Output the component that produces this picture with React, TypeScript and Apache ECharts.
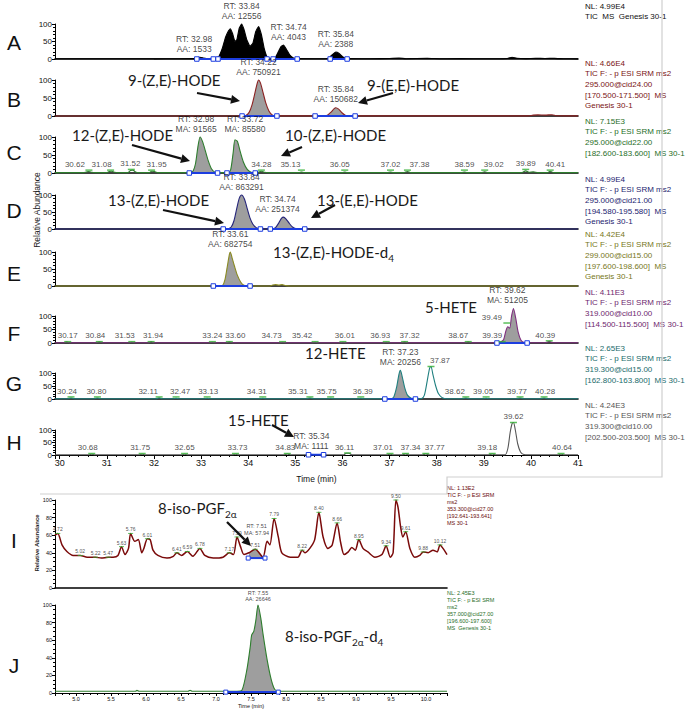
import React, { useEffect, useRef } from 'react';
import * as echarts from 'echarts';

type P = [number, number];
type L = [number, number, string];

// ---------------- data ----------------
const timeRangeAH: P = [29.9, 41];
const timeRangeIJ: P = [4.7, 10.3];

const traceA: P[] = [[29.9,0.5],[30.5,0.8],[31.0,0.5],[31.5,0.8],[32.0,0.5],[32.5,0.6],[32.85,1],[32.92,4],[32.98,5],[33.05,3],[33.15,1],[33.3,1.5],[33.38,8],[33.45,30],[33.52,62],[33.58,80],[33.62,86],[33.67,72],[33.72,50],[33.76,55],[33.81,88],[33.86,100],[33.91,85],[33.97,55],[34.04,36],[34.1,45],[34.16,78],[34.22,93],[34.28,70],[34.34,30],[34.4,6],[34.47,1],[34.57,3],[34.63,18],[34.7,36],[34.75,40],[34.81,28],[34.88,12],[34.96,3],[35.05,1],[35.4,0.8],[35.7,1.5],[35.78,12],[35.86,20],[35.93,16],[36.02,5],[36.12,1],[36.6,0.6],[37.0,1.5],[37.2,2.5],[37.35,0.8],[37.8,2],[38.1,0.6],[38.5,1.2],[38.9,0.6],[39.5,1.5],[39.6,5],[39.7,2],[39.9,1],[40.1,1.8],[40.3,1.5],[40.5,1.8],[40.7,0.6],[41,0.5]];
const traceB: P[] = [[29.9,0],[33.85,0],[33.95,1.5],[34.02,10],[34.08,30],[34.14,62],[34.19,90],[34.22,100],[34.26,92],[34.31,68],[34.37,38],[34.44,14],[34.51,3],[34.58,0.3],[35.6,0.3],[35.68,2],[35.76,11],[35.82,20],[35.86,23],[35.92,19],[35.99,9],[36.06,2],[36.14,0.3],[39.95,0.3],[40.05,2.5],[40.15,3],[40.3,2.5],[40.45,3.5],[40.55,0.5],[41,0.3]];
const traceC: P[] = [[29.9,1],[30.5,1],[30.57,3],[30.62,4],[30.68,2],[30.75,1],[31.0,1],[31.05,4],[31.1,5],[31.16,2],[31.25,1],[31.45,1],[31.5,7],[31.55,8],[31.62,2],[31.7,1],[31.9,1],[31.95,5],[32.01,4],[32.08,1],[32.7,1],[32.82,4],[32.88,25],[32.93,70],[32.98,100],[33.03,88],[33.09,62],[33.15,35],[33.22,12],[33.3,2],[33.4,1],[33.58,1],[33.63,10],[33.68,55],[33.72,92],[33.77,88],[33.83,60],[33.9,30],[33.98,10],[34.06,2],[34.15,1],[34.22,3],[34.28,5],[34.34,2],[34.45,1],[35.08,1],[35.13,2.5],[35.19,1],[36.0,1],[36.05,2.5],[36.1,1],[36.95,1],[37.02,2.5],[37.08,1],[37.3,1],[37.38,4],[37.45,1],[38.53,1],[38.59,2.5],[38.65,1],[38.95,1],[39.02,3.5],[39.09,1],[39.8,1],[39.89,6],[39.96,2],[40.05,3],[40.15,1],[40.35,1],[40.41,5],[40.48,1],[41,1]];
const traceD: P[] = [[29.9,0],[33.5,0],[33.58,1],[33.64,6],[33.7,25],[33.76,62],[33.81,90],[33.86,100],[33.92,88],[33.98,60],[34.04,32],[34.1,14],[34.17,4],[34.25,0.5],[34.5,0.5],[34.58,4],[34.65,18],[34.71,32],[34.75,35],[34.8,30],[34.87,17],[34.94,6],[35.02,1],[35.1,0],[40.3,0],[40.35,1.5],[40.4,0],[41,0]];
const traceE: P[] = [[29.9,0],[33.4,0],[33.46,2],[33.51,20],[33.56,60],[33.6,92],[33.62,100],[33.66,82],[33.71,58],[33.77,32],[33.84,12],[33.9,3],[33.98,0],[34.45,0],[34.52,3],[34.58,4],[34.65,2.5],[34.72,4],[34.8,1],[34.9,0],[41,0]];
const traceF: P[] = [[29.9,1],[30.1,1],[30.15,4],[30.2,1],[30.78,1],[30.84,4],[30.9,1],[31.47,1],[31.53,3],[31.59,1],[31.88,1],[31.94,5],[32.0,1],[33.18,1],[33.24,3],[33.3,1],[33.54,1],[33.6,4],[33.66,1],[34.67,1],[34.73,3],[34.79,1],[35.36,1],[35.42,3],[35.48,1],[35.95,1],[36.01,3],[36.07,1],[36.87,1],[36.93,3],[36.99,1],[37.26,1],[37.32,4],[37.38,1],[38.61,1],[38.67,4],[38.73,1],[39.3,1],[39.36,4],[39.42,12],[39.47,45],[39.51,60],[39.55,55],[39.59,100],[39.63,128],[39.68,90],[39.73,40],[39.79,10],[39.86,2],[39.95,1],[40.32,1],[40.39,6],[40.46,1],[41,1]];
const traceG: P[] = [[29.9,1],[30.18,1],[30.24,4],[30.3,1],[30.74,1],[30.8,4],[30.86,1],[32.05,1],[32.11,5],[32.17,1],[32.41,1],[32.47,3],[32.53,1],[33.07,1],[33.13,3],[33.19,1],[34.25,1],[34.31,3],[34.37,1],[35.25,1],[35.31,4],[35.37,1],[35.69,1],[35.75,3],[35.81,1],[36.33,1],[36.39,3],[36.45,1],[37.02,1],[37.09,8],[37.15,45],[37.2,95],[37.23,110],[37.27,85],[37.32,45],[37.38,15],[37.46,3],[37.55,1],[37.68,2],[37.74,15],[37.8,70],[37.85,118],[37.88,125],[37.92,95],[37.98,50],[38.04,20],[38.12,5],[38.22,1],[38.56,1],[38.62,4],[38.68,1],[38.99,1],[39.05,3],[39.11,1],[39.71,1],[39.77,4],[39.83,1],[40.22,1],[40.28,4],[40.34,1],[41,1]];
const traceH: P[] = [[29.9,1],[30.62,1],[30.68,3],[30.74,1],[31.69,1],[31.75,3],[31.81,1],[32.59,1],[32.65,3],[32.71,1],[33.67,1],[33.73,3],[33.79,1],[34.77,1],[34.83,4],[34.89,1],[35.28,1],[35.34,2.5],[35.4,1],[36.03,1],[36.08,7],[36.14,7],[36.2,1],[36.95,1],[37.01,3],[37.07,1],[37.28,1],[37.34,4],[37.4,1],[37.71,1],[37.77,4],[37.83,1],[39.12,1],[39.18,4],[39.24,1],[39.45,1],[39.51,25],[39.56,90],[39.6,125],[39.63,130],[39.67,100],[39.72,45],[39.78,12],[39.85,2],[39.95,1],[40.58,1],[40.64,3],[40.7,1],[41,1]];
const traceI: P[] = [[4.7,60],[4.74,62],[4.8,49],[4.87,41.5],[4.96,37],[5.06,37],[5.16,35],[5.28,35],[5.36,34],[5.46,35],[5.53,35],[5.6,37],[5.65,47],[5.7,38],[5.75,45],[5.78,62],[5.84,53],[5.89,55],[5.94,40],[5.97,45],[6.02,56],[6.06,55],[6.1,43],[6.17,37],[6.3,34],[6.39,36],[6.44,40],[6.51,37],[6.59,41.5],[6.67,36],[6.77,45],[6.84,37],[6.96,34],[7.1,35],[7.19,40],[7.25,38],[7.3,58],[7.35,47],[7.4,38],[7.47,40],[7.56,44],[7.67,35],[7.73,53],[7.77,49],[7.83,79],[7.89,58],[7.94,40],[8.06,35],[8.17,35],[8.23,43],[8.27,40],[8.34,45],[8.41,55],[8.47,86],[8.53,58],[8.6,45],[8.66,49],[8.73,74],[8.78,52],[8.83,38],[8.89,41],[8.94,46],[8.99,43],[9.04,55],[9.1,45],[9.17,41],[9.27,35],[9.37,38],[9.43,48],[9.49,35],[9.53,40],[9.57,100],[9.6,92],[9.64,68],[9.67,58],[9.71,64],[9.77,45],[9.84,35],[9.91,37],[9.96,41],[10.03,40],[10.1,43],[10.16,41],[10.2,49],[10.26,43],[10.3,38]];
const traceJ: P[] = [[4.7,2],[5.85,2],[5.87,3],[5.9,2],[6.6,2],[6.63,3],[6.66,2],[7.3,2],[7.37,3],[7.44,26],[7.49,53],[7.51,66],[7.54,70],[7.57,83],[7.6,100],[7.64,85],[7.67,68],[7.73,38],[7.79,15],[7.84,4],[7.9,2],[10.3,2]];

// integration windows (min) and their baseline level (%)
const winA: P[] = [[32.91,33.26],[33.36,34.4],[34.53,35.04],[35.74,36.1]];
const winB: P[] = [[33.87,34.61],[35.42,36.27]];
const winC: P[] = [[32.75,33.35],[33.55,34.15]];
const winD: P[] = [[33.47,34.26],[34.47,35.2]];
const winE: P[] = [[33.26,34.04]];
const winF: P[] = [[39.28,39.92]];
const winG: P[] = [[36.9,37.55]];
const winH: P[] = [[35.28,35.6]];
const winI: P[] = [[7.46,7.7]];
const winJ: P[] = [[7.14,7.89]];
const baseLevelI = 34;

// retention-time / area annotations [time, level, text]
const rtA: L[] = [[32.98,5,'RT: 32.98\nAA: 1533'],[33.86,100,'RT: 33.84\nAA: 12556'],[34.75,40,'RT: 34.74\nAA: 4043'],[35.86,20,'RT: 35.84\nAA: 2388']];
const rtB: L[] = [[34.22,100,'RT: 34.22\nAA: 750921'],[35.86,23,'RT: 35.84\nAA: 150682']];
const rtC: L[] = [[32.98,100,'RT: 32.98\nMA: 91565'],[33.72,92,'RT: 33.72\nMA: 85580']];
const rtD: L[] = [[33.86,100,'RT: 33.84\nAA: 863291'],[34.75,35,'RT: 34.74\nAA: 251374']];
const rtE: L[] = [[33.62,100,'RT: 33.61\nAA: 682754']];
const rtF: L[] = [[39.63,128,'RT: 39.62\nMA: 51205']];
const rtG: L[] = [[37.23,110,'RT: 37.23\nMA: 20256']];
const rtH: L[] = [[35.34,2.5,'RT: 35.34\nMA: 1111']];
const rtI: L[] = [[7.58,56,'RT: 7.51\nMA: 57.94']];
const rtJ: L[] = [[7.6,100,'RT: 7.55\nAA: 26646']];

// minor peak labels [time, level, text]
const smallC: L[] = [[30.62,8,'30.62'],[31.08,8,'31.08'],[31.52,10,'31.52'],[31.95,8,'31.95'],[34.28,8,'34.28'],[35.13,8,'35.13'],[36.05,8,'36.05'],[37.02,8,'37.02'],[37.38,8,'37.38'],[38.59,8,'38.59'],[39.02,8,'39.02'],[39.89,10,'39.89'],[40.41,8,'40.41']];
const smallF: L[] = [[30.17,5,'30.17'],[30.84,5,'30.84'],[31.53,5,'31.53'],[31.94,5,'31.94'],[33.24,5,'33.24'],[33.6,5,'33.60'],[34.73,5,'34.73'],[35.42,5,'35.42'],[36.01,5,'36.01'],[36.93,5,'36.93'],[37.32,5,'37.32'],[38.67,5,'38.67'],[39.39,5,'39.39'],[39.49,74,'39.49'],[40.39,8,'40.39']];
const smallG: L[] = [[30.24,8,'30.24'],[30.8,8,'30.80'],[32.11,8,'32.11'],[32.47,8,'32.47'],[33.13,8,'33.13'],[34.31,8,'34.31'],[35.31,8,'35.31'],[35.75,8,'35.75'],[36.39,8,'36.39'],[37.88,125,'37.87'],[38.62,8,'38.62'],[39.05,8,'39.05'],[39.77,8,'39.77'],[40.28,8,'40.28']];
const smallH: L[] = [[30.68,6,'30.68'],[31.75,6,'31.75'],[32.65,6,'32.65'],[33.73,6,'33.73'],[34.83,6,'34.83'],[36.11,8,'36.11'],[37.01,6,'37.01'],[37.34,6,'37.34'],[37.77,6,'37.77'],[39.18,6,'39.18'],[39.63,130,'39.62'],[40.64,6,'40.64']];
const smallI: L[] = [[4.74,62,'4.72'],[5.06,37,'5.02'],[5.28,35,'5.22'],[5.46,35,'5.47'],[5.65,47,'5.63'],[5.78,62,'5.76'],[6.02,56,'6.01'],[6.44,40,'6.41'],[6.59,41.5,'6.59'],[6.77,45,'6.78'],[7.19,40,'7.17'],[7.3,58,'7.29'],[7.56,44,'7.51'],[7.83,79,'7.79'],[8.23,43,'8.22'],[8.47,86,'8.40'],[8.73,74,'8.66'],[9.04,55,'8.95'],[9.43,48,'9.34'],[9.57,100,'9.50'],[9.71,64,'9.61'],[9.96,41,'9.88'],[10.2,49,'10.12']];

const panelLetters = ['A','B','C','D','E','F','G','H','I','J'];
const rightLabels: string[][] = [
  ['NL: 4.99E4', 'TIC  MS  Genesis 30-1'],
  ['NL: 4.66E4', 'TIC F: - p ESI SRM ms2', '295.000@cid24.00', '[170.500-171.500]  MS', 'Genesis 30-1'],
  ['NL: 7.15E3', 'TIC F: - p ESI SRM ms2', '295.000@cid22.00', '[182.600-183.600]  MS 30-1'],
  ['NL: 4.99E4', 'TIC F: - p ESI SRM ms2', '295.000@cid21.00', '[194.580-195.580]  MS', 'Genesis 30-1'],
  ['NL: 4.42E4', 'TIC F: - p ESI SRM ms2', '299.000@cid15.00', '[197.600-198.600]  MS', 'Genesis 30-1'],
  ['NL: 4.11E3', 'TIC F: - p ESI SRM ms2', '319.000@cid10.00', '[114.500-115.500]  MS 30-1'],
  ['NL: 2.65E3', 'TIC F: - p ESI SRM ms2', '319.300@cid15.00', '[162.800-163.800]  MS 30-1'],
  ['NL: 4.24E3', 'TIC F: - p ESI SRM ms2', '319.300@cid10.00', '[202.500-203.500]  MS 30-1'],
  ['NL: 1.13E2', 'TIC F: - p ESI SRM', 'ms2', '353.300@cid27.00', '[192.641-193.641]', 'MS 30-1'],
  ['NL: 2.45E3', 'TIC F: - p ESI SRM', 'ms2', '357.000@cid27.00', '[196.600-197.600]', 'MS  Genesis 30-1'],
];
const compoundNames = ['9-(Z,E)-HODE','9-(E,E)-HODE','12-(Z,E)-HODE','10-(Z,E)-HODE','13-(Z,E)-HODE','13-(E,E)-HODE','13-(Z,E)-HODE-d{sub|4}','5-HETE','12-HETE','15-HETE','8-iso-PGF{sub|2α}','8-iso-PGF{sub|2α}-d{sub|4}'];

// ---------------- layout / style ----------------
const NUM_FONT = 'Liberation Sans, Arial, sans-serif';
const NAME_FONT = 'Lato, Open Sans, sans-serif';
const gridBoxes = [[24,35],[80,36],[137,36],[195,34],[252,34],[316,27],[373,26],[430,25],[500,88],[605,88]];
const letterY = [42,99,152,210,273,333,383,442,540,665];
const rightLabelTop = [1,58,116,174,229,287,343,400,484,589];
const rightColors = ['#111','#7a1414','#1f6e1f','#1c1c6e','#77771a','#6e1f6e','#1a6b6b','#555555','#6a0a0a','#1f6e1f'];
const traceColors = ['#000','#8b2222','#2e7d2e','#24247a','#8a8a22','#7f2f7f','#1f7f7f','#555555','#7a0a0a','#2e7d2e'];
const namePos = [[128,80],[367,85],[72,135],[285,135],[108,200],[317,200],[273,252],[425,307],[305,353],[228,420],[158,508],[285,636]];
const arrowPos = [[197,93,240,101],[393,93,358,103],[132,145,190,161],[302,147,281,156],[163,210,224,223],[335,205,311,218],[272,425,294,437],[227,522,251,546]];
// horizontal label shifts (px) for crowded minor-peak labels
const smallOffC = [-14,-9,-1,5,0,-11,-5,0,12,0,9,0,5];
const smallOffF = [0,-4,-7,2,0,6,-11,-13,2,-6,5,-10,-10,-15,-4];
const smallOffG = [-4,-1,-11,4,1,-6,-12,-4,2,9,-11,-3,-3,1];
const smallOffH = [-4,-2,0,2,-2,-3,-7,5,9,-5,0,1];

const panels = [
  { trace: traceA, win: winA, base: 0, rt: rtA, small: [] as L[], sOff: [] as number[], solid: true, rtOff: [[-6,0],[0,0],[5,0],[0,0]] },
  { trace: traceB, win: winB, base: 0, rt: rtB, small: [] as L[], sOff: [] as number[], solid: false, rtOff: [] },
  { trace: traceC, win: winC, base: 0, rt: rtC, small: smallC, sOff: smallOffC, solid: false, rtOff: [[-4,0],[10,-2]] },
  { trace: traceD, win: winD, base: 0, rt: rtD, small: [] as L[], sOff: [] as number[], solid: false, rtOff: [[0,0],[-6,0]] },
  { trace: traceE, win: winE, base: 0, rt: rtE, small: [] as L[], sOff: [] as number[], solid: false, rtOff: [] },
  { trace: traceF, win: winF, base: 0, rt: rtF, small: smallF, sOff: smallOffF, solid: false, rtOff: [[-6,0]] },
  { trace: traceG, win: winG, base: 0, rt: rtG, small: smallG, sOff: smallOffG, solid: false, rtOff: [] },
  { trace: traceH, win: winH, base: 1, rt: rtH, small: smallH, sOff: smallOffH, solid: false, rtOff: [] },
  { trace: traceI, win: winI, base: baseLevelI, rt: rtI, small: smallI, sOff: [] as number[], solid: false, rtOff: [] },
  { trace: traceJ, win: winJ, base: 1, rt: rtJ, small: [] as L[], sOff: [] as number[], solid: false, rtOff: [] },
];

function arrow(x1: number, y1: number, x2: number, y2: number) {
  const a = Math.atan2(y2 - y1, x2 - x1);
  const len = 9, w = 4.5;
  const bx = x2 - len * Math.cos(a), by = y2 - len * Math.sin(a);
  const px = -Math.sin(a) * w, py = Math.cos(a) * w;
  return [
    { type: 'line', silent: true, shape: { x1, y1, x2: bx, y2: by }, style: { stroke: '#111', lineWidth: 2.2 } },
    { type: 'polygon', silent: true, shape: { points: [[x2, y2], [bx + px, by + py], [bx - px, by - py]] }, style: { fill: '#111' } },
  ];
}

function buildOption() {
  const grid: any[] = [], xAxis: any[] = [], yAxis: any[] = [], series: any[] = [];
  panels.forEach((p, i) => {
    const isIJ = i >= 8;
    const [top, h] = gridBoxes[i];
    grid.push({ left: 55, top, width: isIJ ? 392 : 523, height: h, containLabel: false, outerBoundsMode: 'none' });
    const range = isIJ ? timeRangeIJ : timeRangeAH;
    const showX = i === 7 || i === 9;
    const tinyFont = isIJ ? 5.5 : 9;
    xAxis.push({
      gridIndex: i, type: 'value', min: range[0], max: range[1], splitNumber: 11,
      axisLine: { show: true, onZero: false, lineStyle: { color: '#000', width: showX ? 1.2 : 1.6 } },
      axisTick: { show: showX, length: isIJ ? 3 : 4, lineStyle: { color: '#000' } },
      minorTick: { show: showX, splitNumber: 5, length: 2, lineStyle: { color: '#000' } },
      axisLabel: { show: showX, fontSize: tinyFont, color: '#111', fontFamily: NUM_FONT, margin: 3, showMinLabel: false, showMaxLabel: isIJ ? false : true, formatter: (v: number) => (isIJ ? v.toFixed(1) : String(Math.round(v))) },
      splitLine: { show: false },
      name: showX ? 'Time (min)' : '', nameLocation: 'middle', nameGap: isIJ ? 10 : 19,
      nameTextStyle: { fontSize: isIJ ? 5.5 : 8.5, color: '#111', fontFamily: NUM_FONT },
    });
    yAxis.push({
      gridIndex: i, type: 'value', min: 0, max: 100, interval: isIJ ? 20 : 50,
      axisLine: { show: true, lineStyle: { color: '#000', width: 1 } },
      axisTick: { show: true, length: 3, lineStyle: { color: '#000' } },
      minorTick: { show: true, splitNumber: isIJ ? 4 : 5, length: 2, lineStyle: { color: '#000' } },
      axisLabel: { fontSize: isIJ ? 5.5 : 8, margin: 3, color: '#111', fontFamily: NUM_FONT },
      splitLine: { show: false },
    });
    const color = traceColors[i];
    const smooth = i === 0 ? 0.1 : 0.25;
    series.push({
      type: 'line', xAxisIndex: i, yAxisIndex: i, data: p.trace, symbol: 'none', smooth, clip: false, silent: true,
      lineStyle: { color, width: i === 8 ? 1.5 : 1.1 },
      areaStyle: p.solid ? { color: '#000', opacity: 1 } : undefined, z: 3,
    });
    if (!p.solid) {
      p.win.forEach(([a, b]) => {
        series.push({
          type: 'line', xAxisIndex: i, yAxisIndex: i, silent: true, clip: false,
          data: p.trace.filter((q) => q[0] >= a && q[0] <= b), symbol: 'none', smooth,
          lineStyle: { width: 0 }, areaStyle: { color: '#9e9e9e', opacity: 1, origin: p.base }, z: 2,
        });
      });
    }
    p.win.forEach(([a, b]) => {
      series.push({
        type: 'line', xAxisIndex: i, yAxisIndex: i, silent: true, clip: false,
        data: [[a, p.base], [b, p.base]], symbol: 'rect', symbolSize: isIJ ? 4 : 4.5, showSymbol: true,
        itemStyle: { color: '#fff', borderColor: '#1d3ee0', borderWidth: 1 },
        lineStyle: { color: '#1d3ee0', width: 2 }, z: 4,
      });
    });
    if (p.small.length) {
      series.push({
        type: 'scatter', xAxisIndex: i, yAxisIndex: i, silent: true, clip: false,
        data: p.small.map(([t, v, s], k) => ({ value: [t, v], name: s, label: { offset: [p.sOff[k] || 0, 0] } })),
        symbol: 'rect', symbolSize: isIJ ? [5, 1] : [7, 1.5], itemStyle: { color: '#33b033' },
        label: { show: true, position: 'top', distance: 1, formatter: '{b}', fontSize: isIJ ? 5 : 8, fontFamily: NUM_FONT, color: '#222' },
        z: 5,
      });
    }
    series.push({
      type: 'scatter', xAxisIndex: i, yAxisIndex: i, silent: true, clip: false,
      data: p.rt.map(([t, v, s], k) => ({ value: [t, v], name: s, label: { offset: (p.rtOff[k] as any) || [0, 0] } })),
      symbolSize: 1, itemStyle: { color: 'rgba(0,0,0,0)' },
      label: { show: true, position: 'top', distance: isIJ ? 2 : 3, formatter: '{b}', fontSize: isIJ ? 5.5 : 8.5, lineHeight: isIJ ? 6.5 : 10, fontFamily: NUM_FONT, color: '#111' },
      z: 6,
    });
  });

  const graphic: any[] = [];
  panelLetters.forEach((t, i) => {
    graphic.push({ type: 'text', x: 14, y: letterY[i], silent: true, style: { text: t, fontSize: 21, fontFamily: NUM_FONT, fill: '#111', align: 'center', verticalAlign: 'middle', textAlign: 'center', textVerticalAlign: 'middle' } });
  });
  rightLabels.forEach((lines, i) => {
    const isIJ = i >= 8;
    graphic.push({ type: 'text', x: isIJ ? 447 : 585, y: rightLabelTop[i], silent: true, style: { text: lines.join('\n'), fontSize: isIJ ? 5.5 : 8, lineHeight: isIJ ? 7 : 10.6, fontFamily: NUM_FONT, fill: rightColors[i], align: 'left', verticalAlign: 'top', textAlign: 'left', textVerticalAlign: 'top' } });
  });
  compoundNames.forEach((t, i) => {
    graphic.push({
      type: 'text', x: namePos[i][0], y: namePos[i][1], silent: true,
      style: {
        text: t, fontSize: 15, fontFamily: NAME_FONT, fill: '#1a1a1a', lineHeight: 22,
        align: 'left', verticalAlign: 'middle', textAlign: 'left', textVerticalAlign: 'middle',
        rich: { sub: { fontSize: 10, fontFamily: NAME_FONT, fill: '#1a1a1a', lineHeight: 12, verticalAlign: 'bottom' } },
      },
    });
  });
  arrowPos.forEach(([a, b, c, d]) => graphic.push(...arrow(a, b, c, d)));
  graphic.push({ type: 'text', x: 37, y: 210, rotation: Math.PI / 2, silent: true, style: { text: 'Relative Abundance', fontSize: 8.5, fontFamily: NUM_FONT, fill: '#222', align: 'center', verticalAlign: 'middle', textAlign: 'center', textVerticalAlign: 'middle' } });
  graphic.push({ type: 'text', x: 37, y: 543, rotation: Math.PI / 2, silent: true, style: { text: 'Relative Abundance', fontSize: 6, fontWeight: 'bold', fontFamily: NUM_FONT, fill: '#222', align: 'center', verticalAlign: 'middle', textAlign: 'center', textVerticalAlign: 'middle' } });
  graphic.push({ type: 'polyline', silent: true, shape: { points: [[40, 494], [447, 494], [447, 477], [662, 477], [662, 0]] }, style: { stroke: '#cfcfcf', lineWidth: 1.2, fill: 'none' } });

  return { animation: false, backgroundColor: '#fff', textStyle: { fontFamily: NUM_FONT }, grid, xAxis, yAxis, series, graphic };
}

export default function App() {
  const ref = useRef<HTMLDivElement>(null);
  useEffect(() => {
    document.body.style.margin = '0';
    if (!ref.current) return;
    const chart = echarts.init(ref.current, undefined, { renderer: 'svg' });
    chart.setOption(buildOption() as any);
    return () => chart.dispose();
  }, []);
  return <div ref={ref} style={{ width: 697, height: 716, background: '#fff' }} />;
}
